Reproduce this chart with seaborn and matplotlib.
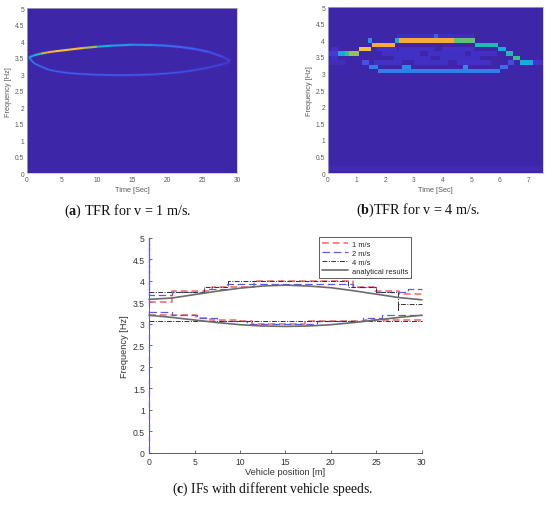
import numpy as np
import pandas as pd
import matplotlib.pyplot as plt
import seaborn as sns
from matplotlib.collections import LineCollection
from matplotlib.colors import LinearSegmentedColormap, Normalize

# ---- data ----
# (a) TFR ridges for v = 1 m/s  (time [s], frequency [Hz], relative energy)
a_time = [0.3, 1, 2, 3, 4, 6, 8, 10, 12, 15, 18, 20, 22, 24, 26, 28, 29]
a_upper = [3.5, 3.57, 3.62, 3.66, 3.69, 3.74, 3.79, 3.83, 3.86, 3.89, 3.88, 3.86, 3.82, 3.76, 3.67, 3.52, 3.4]
a_lower = [3.5, 3.33, 3.23, 3.14, 3.09, 3.03, 3.0, 2.98, 2.97, 2.97, 2.99, 3.02, 3.06, 3.12, 3.2, 3.3, 3.38]
a_upper_lev = [0.35, 0.4, 0.6, 0.82, 0.88, 0.9, 0.86, 0.5, 0.42, 0.33, 0.28, 0.25, 0.22, 0.2, 0.17, 0.14, 0.1]
a_lower_lev = [0.33, 0.28, 0.24, 0.22, 0.21, 0.2, 0.2, 0.2, 0.2, 0.2, 0.19, 0.18, 0.17, 0.16, 0.14, 0.12, 0.1]

# (b) TFR cells for v = 4 m/s: (t start, t end, frequency, level)
b_ridge_upper = [
    (0.0, 0.35, 3.6, 0.12), (0.35, 0.6, 3.6, 0.42), (0.6, 0.75, 3.6, 0.55),
    (0.75, 1.1, 3.6, 0.66), (1.1, 1.5, 3.733, 0.9), (1.4, 1.55, 4.0, 0.35),
    (1.55, 2.37, 3.867, 0.85), (2.37, 2.5, 4.0, 0.45), (2.5, 4.4, 4.0, 0.82),
    (4.4, 5.15, 4.0, 0.6), (5.15, 5.96, 3.867, 0.5), (5.96, 6.2, 3.733, 0.45),
    (6.2, 6.45, 3.6, 0.5), (6.45, 6.7, 3.467, 0.56), (6.7, 7.15, 3.333, 0.45),
    (7.15, 7.5, 3.333, 0.1),
]
b_ridge_lower = [
    (1.2, 1.45, 3.333, 0.18), (1.45, 1.75, 3.2, 0.3), (1.75, 6.0, 3.067, 0.3),
    (2.6, 2.9, 3.2, 0.33), (4.7, 4.9, 3.2, 0.33), (6.0, 6.3, 3.2, 0.25),
    (6.3, 6.5, 3.333, 0.16),
]
b_faint = [
    (1.7, 2.4, 3.733, 0.08), (2.5, 3.7, 3.733, 0.07), (4.0, 5.1, 3.733, 0.08),
    (1.9, 3.2, 3.6, 0.07), (3.5, 4.8, 3.6, 0.07), (5.0, 5.9, 3.6, 0.07),
    (2.3, 3.6, 3.467, 0.07), (3.9, 5.3, 3.467, 0.07), (1.6, 2.6, 3.333, 0.08),
    (3.0, 4.2, 3.333, 0.07), (4.5, 5.7, 3.333, 0.08), (0.1, 0.35, 3.467, 0.07),
    (0.1, 0.35, 3.733, 0.07), (0.0, 0.6, 3.333, 0.05), (2.4, 5.1, 4.133, 0.05),
    (3.7, 3.85, 4.133, 0.2), (0.0, 7.5, 0.133, 0.03),
]

# (c) instantaneous frequencies (vehicle position [m], frequency [Hz])
v1_up_x = [0, 2.5, 6.9, 11.5, 22.4, 24.9, 27.5, 30]
v1_up_f = [3.5, 3.767, 3.867, 4.0, 3.867, 3.767, 3.7, 3.7]
v1_lo_x = [0, 5.2, 6.7, 10.0, 11.3, 17.1, 23.8, 30]
v1_lo_f = [3.2, 3.133, 3.1, 3.067, 3.0, 3.067, 3.1, 3.1]
v2_up_x = [0, 0, 0, 2.5, 6.0, 8.6, 22.4, 25.0, 28.5, 30]
v2_up_f = [0, 5, 3.667, 3.733, 3.8, 3.933, 3.867, 3.733, 3.8, 3.8]
v2_lo_x = [0, 2.5, 5.3, 7.5, 10.8, 18.5, 23.5, 25.6, 30]
v2_lo_f = [3.267, 3.2, 3.133, 3.067, 3.0, 3.067, 3.133, 3.2, 3.2]
v4_up_x = [0, 6.0, 8.7, 21.85, 25.0, 27.4, 27.4, 30]
v4_up_f = [3.733, 3.867, 4.0, 3.867, 3.733, 3.333, 3.467, 3.467]
v4_lo_x = [0, 30]
v4_lo_f = [3.067, 3.067]
an_x = [0, 2.5, 5, 7.5, 10, 12.5, 15, 17.5, 20, 22.5, 25, 27.5, 30]
an_up = [3.57, 3.6, 3.68, 3.76, 3.83, 3.88, 3.9, 3.88, 3.84, 3.77, 3.69, 3.61, 3.56]
an_lo = [3.2, 3.15, 3.09, 3.03, 2.98, 2.95, 2.94, 2.95, 2.98, 3.03, 3.09, 3.15, 3.2]

# ---- style ----
sns.set_style("ticks")
plt.rcParams['font.family'] = ['Liberation Sans', 'DejaVu Sans']
plt.rcParams['mathtext.fontset'] = 'custom'
plt.rcParams['mathtext.rm'] = 'Liberation Serif'
plt.rcParams['mathtext.bf'] = 'Liberation Serif:bold'

parula = LinearSegmentedColormap.from_list('parula', [
    (0.00, '#3e26a8'), (0.10, '#4433d0'), (0.20, '#3f5cf0'), (0.33, '#2a8cea'),
    (0.45, '#10b0d8'), (0.55, '#2ec09c'), (0.65, '#8cc45c'), (0.75, '#e0b23a'),
    (0.85, '#fbaa38'), (0.95, '#f5d828'), (1.00, '#f9fb15')])
norm = Normalize(0, 1)

fig = plt.figure(figsize=(5.5, 5.06), dpi=100)
ax_a = fig.add_axes([0.049, 0.656, 0.382, 0.326])
ax_b = fig.add_axes([0.596, 0.656, 0.391, 0.328])
ax_c = fig.add_axes([0.271, 0.103, 0.496, 0.425])

top_grey = '#5a5a5a'


def style_tfr(ax, xticks):
    ax.set_ylim(0, 5)
    ax.set_yticks(np.arange(0, 5.01, 0.5))
    ax.set_yticklabels([f'{v:g}' for v in np.arange(0, 5.01, 0.5)])
    ax.set_xticks(xticks)
    ax.tick_params(labelsize=4.8, colors=top_grey, length=0, pad=2)
    ax.set_xlabel('Time [Sec]', fontsize=5.3, color=top_grey, labelpad=2)
    ax.set_ylabel('Frequency [Hz]', fontsize=5.3, color=top_grey, labelpad=2)
    for s in ax.spines.values():
        s.set_color('#bbbbbb')
        s.set_linewidth(0.5)


# (a)
ax_a.set_facecolor(parula(0.0))
for f_vals, lev, lw in [(a_lower, a_lower_lev, 1.1), (a_upper, a_upper_lev, 1.5)]:
    pts = np.column_stack([a_time, f_vals])
    segs = np.stack([pts[:-1], pts[1:]], axis=1)
    lev = np.asarray(lev)
    glow = LineCollection(segs, colors=[parula(0.2)], linewidths=2.4, alpha=0.18)
    ax_a.add_collection(glow)
    lc = LineCollection(segs, cmap=parula, norm=norm, linewidths=lw)
    lc.set_array((lev[:-1] + lev[1:]) / 2)
    ax_a.add_collection(lc)
ax_a.set_xlim(0, 30)
style_tfr(ax_a, np.arange(0, 31, 5))

# (b)
t_edges = np.arange(0, 7.55, 0.05)
f_edges = (np.arange(39) - 0.5) / 7.5
t_mid = (t_edges[:-1] + t_edges[1:]) / 2
Z = np.zeros((len(f_edges) - 1, len(t_edges) - 1))
for t0, t1, f, lev in b_faint + b_ridge_lower + b_ridge_upper:
    row = int(round(f * 7.5))
    cols = (t_mid >= t0) & (t_mid < t1)
    Z[row, cols] = np.maximum(Z[row, cols], lev)
ax_b.pcolormesh(t_edges, f_edges, Z, cmap=parula, norm=norm, shading='flat')
ax_b.set_xlim(0, 7.5)
style_tfr(ax_b, np.arange(0, 8, 1))

# (c)
lines = [
    ('1 m/s', [(v1_up_x, v1_up_f), (v1_lo_x, v1_lo_f)], '#f06666', (0, (4.5, 2.5)), 1.1, 'steps-post'),
    ('2 m/s', [(v2_up_x, v2_up_f), (v2_lo_x, v2_lo_f)], '#5c5ce0', (0, (6, 3)), 0.9, 'steps-post'),
    ('4 m/s', [(v4_up_x, v4_up_f), (v4_lo_x, v4_lo_f)], '#333333', (0, (5, 1.5, 1, 1.5)), 0.7, 'steps-post'),
    ('analytical results', [(an_x, an_up), (an_x, an_lo)], '#6b6b6b', '-', 1.2, 'default'),
]
handles = []
for name, parts, col, ls, lw, ds in lines:
    for i, (xs, fs) in enumerate(parts):
        df = pd.DataFrame({'pos': xs, 'freq': fs})
        sns.lineplot(data=df, x='pos', y='freq', ax=ax_c, color=col, linestyle=ls,
                     linewidth=lw, drawstyle=ds, estimator=None, sort=False,
                     label=name if i == 0 else None, legend=False, zorder=3, clip_on=False)
    handles.append(ax_c.lines[-2])

ax_c.set_xlim(0, 30)
ax_c.set_ylim(0, 5)
ax_c.set_xticks(np.arange(0, 31, 5))
ax_c.set_yticks(np.arange(0, 5.01, 0.5))
ax_c.set_yticklabels([f'{v:g}' for v in np.arange(0, 5.01, 0.5)])
ax_c.tick_params(labelsize=6.2, colors='#333333', direction='in', length=2.5, width=0.5, pad=3)
ax_c.set_xlabel('Vehicle position [m]', fontsize=6.7, color='#333333', labelpad=1)
ax_c.set_ylabel('Frequency [Hz]', fontsize=6.7, color='#333333', labelpad=3)
sns.despine(ax=ax_c)
for s in ['left', 'bottom']:
    ax_c.spines[s].set_color('#444444')
    ax_c.spines[s].set_linewidth(0.6)
    ax_c.spines[s].set_zorder(1)
leg = ax_c.legend(handles=handles, labels=[l[0] for l in lines], loc='upper right',
                  bbox_to_anchor=(0.975, 1.02), fontsize=5.4, handlelength=3.4,
                  fancybox=False, framealpha=1, borderpad=0.4, labelspacing=0.25,
                  handletextpad=0.6)
leg.set_zorder(5)
leg.get_frame().set_edgecolor('#444444')
leg.get_frame().set_linewidth(0.6)

# captions
cap = dict(family='Liberation Serif', ha='center', va='center', color='#111111')
fig.text(0.231, 0.583, r'($\mathbf{a}$) TFR for v = 1 m/s.', fontsize=10.2, **cap)
fig.text(0.76, 0.585, r'($\mathbf{b}$)TFR for v = 4 m/s.', fontsize=10.2, **cap)
fig.text(0.495, 0.033, r'($\mathbf{c}$) IFs with different vehicle speeds.', fontsize=9.8, **cap)

fig.savefig('out.png', dpi=100, facecolor='white')
